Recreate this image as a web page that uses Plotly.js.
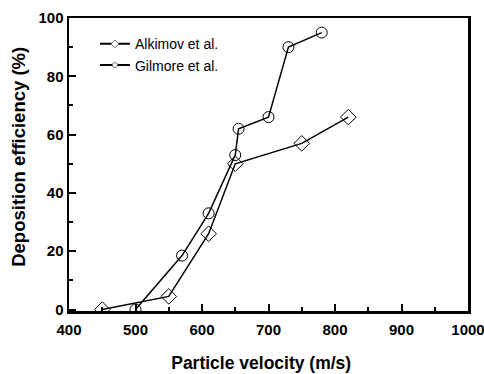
<!DOCTYPE html>
<html>
<head>
<meta charset="utf-8">
<script src="https://cdn.plot.ly/plotly-3.0.1.min.js"></script>
<style>html,body{margin:0;padding:0;background:#fff;}#chart{width:484px;height:374px;}</style>
</head>
<body>
<div id="chart"></div>
<script>
var alkimovX = [450, 550, 610, 650, 750, 820];
var alkimovY = [0, 4.5, 26, 50, 57, 66];
var gilmoreX = [500, 570, 610, 650, 655, 700, 730, 780];
var gilmoreY = [0, 18.5, 33, 53, 62, 66, 90, 95];
var seriesNames = ["Alkimov et al.", "Gilmore et al."];
var xTicks = [400, 500, 600, 700, 800, 900, 1000];
var yTicks = [0, 20, 40, 60, 80, 100];

var FONT = "Arial, 'Liberation Sans', sans-serif";

var traces = [
  {x: alkimovX, y: alkimovY, mode: "lines+markers", showlegend: false,
   line: {color: "#000", width: 1.5},
   marker: {symbol: "diamond-open", size: 12, color: "#000", line: {width: 1, color: "#000"}}},
  {x: gilmoreX, y: gilmoreY, mode: "lines+markers", showlegend: false,
   line: {color: "#000", width: 1.5},
   marker: {symbol: "circle-open", size: 11, color: "#000", line: {width: 1, color: "#000"}}},
  {x: [null], y: [null], mode: "lines+markers", name: seriesNames[0],
   line: {color: "#000", width: 2},
   marker: {symbol: "diamond", size: 6, color: "#fff", line: {width: 0.8, color: "#555"}}},
  {x: [null], y: [null], mode: "lines+markers", name: seriesNames[1],
   line: {color: "#000", width: 2},
   marker: {symbol: "circle", size: 5, color: "#fff", line: {width: 0.8, color: "#555"}}}
];

var layout = {
  width: 484, height: 374,
  margin: {l: 69, r: 16, t: 18, b: 63},
  paper_bgcolor: "#fff", plot_bgcolor: "#fff",
  font: {family: FONT, color: "#000"},
  showlegend: true,
  legend: {x: 0.065, y: 0.965, xanchor: "left", yanchor: "top",
           bgcolor: "rgba(0,0,0,0)", borderwidth: 0,
           font: {family: FONT, size: 14, color: "#000"},
           tracegroupgap: 0, itemwidth: 30},
  xaxis: {
    range: [400, 1000], tickvals: xTicks, ticktext: xTicks.map(String),
    ticks: "inside", ticklen: 7, tickwidth: 2, tickcolor: "#000",
    minor: {dtick: 50, ticks: "inside", ticklen: 4, tickwidth: 2, tickcolor: "#000"},
    showline: true, linecolor: "#000", linewidth: 2.5, mirror: true,
    showgrid: false, zeroline: false, ticklabelstandoff: 3, ticklabeloverflow: "allow",
    tickfont: {family: FONT, size: 15, color: "#000", weight: "bold"},
    title: {text: "<b>Particle velocity (m/s)</b>&nbsp;&nbsp;&nbsp;", font: {family: FONT, size: 17.5, color: "#000"}, standoff: 20}
  },
  yaxis: {
    range: [-0.5, 100], tickvals: yTicks, ticktext: yTicks.map(String),
    ticks: "inside", ticklen: 7, tickwidth: 2, tickcolor: "#000",
    minor: {dtick: 10, ticks: "inside", ticklen: 4, tickwidth: 2, tickcolor: "#000"},
    showline: true, linecolor: "#000", linewidth: 2.5, mirror: true,
    showgrid: false, zeroline: false, ticklabeloverflow: "allow",
    tickfont: {family: FONT, size: 15, color: "#000", weight: "bold"},
    title: {text: "&nbsp;&nbsp;&nbsp;<b>Deposition efficiency (%)</b>", font: {family: FONT, size: 18.5, color: "#000"}, standoff: 8}
  }
};

Plotly.newPlot("chart", traces, layout, {staticPlot: true, displayModeBar: false});
</script>
</body>
</html>
